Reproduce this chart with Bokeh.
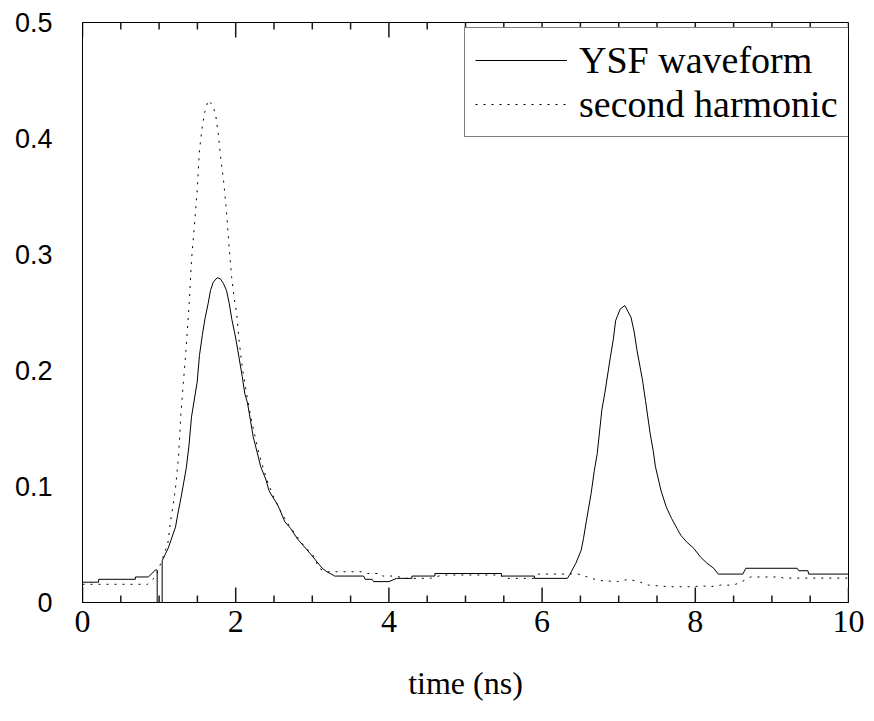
from bokeh.plotting import figure
from bokeh.models import Range1d, FixedTicker, Legend, LegendItem
from bokeh.embed import file_html
from bokeh.resources import INLINE

# ---- data ----
ysf_t = [0.0, 0.21, 0.21, 0.69, 0.69, 0.86, 0.95, 0.975, 0.975, 1.04, 1.04, 1.12,
         1.214, 1.249, 1.288, 1.354, 1.388, 1.423, 1.497, 1.527, 1.563, 1.60, 1.641,
         1.671, 1.706, 1.758, 1.80, 1.84, 1.88, 1.915, 1.95, 2.0, 2.085, 2.119, 2.154,
         2.193, 2.228, 2.293, 2.327, 2.397, 2.432, 2.467, 2.537, 2.576, 2.641, 2.715,
         2.81, 2.97, 3.13, 3.19, 3.27, 3.29, 3.67, 3.69, 3.78, 3.80, 4.0, 4.1, 4.3,
         4.3, 4.6, 4.6, 5.47, 5.47, 5.9, 5.9, 6.33, 6.36, 6.44, 6.51, 6.54, 6.58, 6.64,
         6.68, 6.72, 6.78, 6.82, 6.89, 6.93, 6.96, 7.02, 7.08, 7.16, 7.2, 7.24, 7.31,
         7.35, 7.41, 7.45, 7.48, 7.55, 7.62, 7.69, 7.76, 7.81, 7.89, 7.98, 8.07, 8.15,
         8.24, 8.30, 8.62, 8.66, 9.33, 9.35, 9.47, 9.48, 10.0]
ysf_v = [0.0175, 0.0175, 0.020, 0.020, 0.022, 0.022, 0.028, 0.028, 0.0, 0.0, 0.036, 0.047,
         0.065, 0.078, 0.091, 0.1156, 0.134, 0.160, 0.190, 0.213, 0.230, 0.245, 0.258,
         0.269, 0.276, 0.280, 0.279, 0.275, 0.269, 0.258, 0.244, 0.228, 0.195, 0.180, 0.172,
         0.157, 0.143, 0.126, 0.117, 0.1055, 0.097, 0.0926, 0.0854, 0.080, 0.0696, 0.064,
         0.0545, 0.0424, 0.0295, 0.0265, 0.0237, 0.0228, 0.0228, 0.020, 0.020, 0.018, 0.018, 0.0208, 0.0208,
         0.0228, 0.0228, 0.025, 0.025, 0.0228, 0.0228, 0.0208, 0.0208, 0.024, 0.0338, 0.045, 0.055, 0.071, 0.094,
         0.113, 0.1285, 0.166, 0.181, 0.211, 0.227, 0.243, 0.253, 0.256, 0.246, 0.234, 0.217, 0.192,
         0.174, 0.146, 0.131, 0.117, 0.097, 0.0825, 0.0725, 0.064, 0.058, 0.052, 0.0467, 0.039, 0.034,
         0.0295, 0.0245, 0.0245, 0.0295, 0.0295, 0.0274, 0.0274, 0.0245, 0.0245]

sh_t = [0.0, 0.85, 0.95, 1.0, 1.04, 1.114, 1.149, 1.183, 1.218, 1.253, 1.282, 1.316, 1.354,
        1.393, 1.423, 1.462, 1.497, 1.527, 1.563, 1.597, 1.641, 1.706, 1.741, 1.771, 1.806,
        1.841, 1.876, 1.911, 1.946, 1.981, 2.015, 2.04, 2.085, 2.15, 2.2, 2.3, 2.4, 2.5, 2.6,
        2.7, 2.8, 2.9, 3.0, 3.09, 3.18, 3.65, 3.72, 3.89, 3.92, 4.1, 4.19, 4.54, 4.7, 5.46,
        5.5, 5.9, 5.95, 6.35, 6.45, 6.59, 6.74, 6.98, 7.13, 7.26, 7.39, 7.67, 7.98, 8.07,
        8.2, 8.33, 8.5, 8.61, 8.72, 9.11, 9.15, 10.0]
sh_v = [0.0157, 0.0157, 0.022, 0.030, 0.037, 0.051, 0.070, 0.084, 0.101, 0.125, 0.160, 0.189, 0.220,
        0.258, 0.295, 0.326, 0.355, 0.390, 0.410, 0.423, 0.433, 0.428, 0.419, 0.405, 0.382,
        0.364, 0.340, 0.309, 0.281, 0.262, 0.248, 0.228, 0.203, 0.177, 0.159, 0.129, 0.107, 0.090, 0.077,
        0.066, 0.057, 0.048, 0.042, 0.0295, 0.0265, 0.0265, 0.025, 0.025, 0.0228, 0.0228, 0.0208, 0.0208, 0.0237, 0.0237,
        0.0208, 0.0208, 0.0245, 0.0245, 0.025, 0.022, 0.019, 0.018, 0.020, 0.018, 0.015, 0.0136, 0.0136, 0.0145,
        0.0136, 0.015, 0.015, 0.018, 0.022, 0.022, 0.021, 0.021]

x_ticks = [0, 2, 4, 6, 8, 10]
x_minor = [0.5, 1, 1.5, 2.5, 3, 3.5, 4.5, 5, 5.5, 6.5, 7, 7.5, 8.5, 9, 9.5]
y_ticks = [0, 0.1, 0.2, 0.3, 0.4, 0.5]
y_tick_labels = ["0", "0.1", "0.2", "0.3", "0.4", "0.5"]
series_names = ["YSF waveform", "second harmonic"]

# ---- style ----
SERIF = "Liberation Serif"
SANS = "Liberation Sans"
X_LO, X_HI = 0, 10
Y_LO, Y_HI = 0, 0.5
FRAME_W, FRAME_H = 766, 580
MAJOR_LEN_PX, MINOR_LEN_PX = 15, 7
TICK_W = 1.5
TICK_COLOR = "#1a1a1a"

p = figure(frame_width=FRAME_W, frame_height=FRAME_H,
           min_border_left=82, min_border_right=18, min_border_top=22, min_border_bottom=105,
           x_range=Range1d(X_LO, X_HI), y_range=Range1d(Y_LO, Y_HI),
           output_backend="svg", toolbar_location=None)
p.xgrid.visible = False
p.ygrid.visible = False
p.outline_line_color = "black"
p.outline_line_width = 1
p.background_fill_color = "white"
p.border_fill_color = "white"

r1 = p.line(ysf_t, ysf_v, line_color="black", line_width=1)
r2 = p.line(sh_t, sh_v, line_color="black", line_width=1, line_dash="2 6")

# inward ticks along bottom and top edges (lengths converted from pixels to data units)
px_to_y = (Y_HI - Y_LO) / FRAME_H
maj_len = MAJOR_LEN_PX * px_to_y
min_len = MINOR_LEN_PX * px_to_y
tick_xs, tick_ys = [], []
for t in x_ticks:
    tick_xs += [[t, t], [t, t]]
    tick_ys += [[Y_LO, Y_LO + maj_len], [Y_HI, Y_HI - maj_len]]
for t in x_minor:
    tick_xs += [[t, t], [t, t]]
    tick_ys += [[Y_LO, Y_LO + min_len], [Y_HI, Y_HI - min_len]]
p.multi_line(xs=tick_xs, ys=tick_ys, line_color=TICK_COLOR, line_width=TICK_W)

xa = p.xaxis[0]
xa.ticker = FixedTicker(ticks=x_ticks, minor_ticks=x_minor)
xa.major_tick_in = 0
xa.major_tick_out = 0
xa.minor_tick_in = 0
xa.minor_tick_out = 0
xa.axis_line_color = "black"
xa.major_label_text_font = SERIF
xa.major_label_text_font_size = "32px"
xa.major_label_text_color = "black"
xa.major_label_standoff = 8
xa.axis_label = "time (ns)"
xa.axis_label_text_font = SERIF
xa.axis_label_text_font_size = "32px"
xa.axis_label_text_font_style = "normal"
xa.axis_label_text_color = "black"
xa.axis_label_standoff = 30

ya = p.yaxis[0]
ya.ticker = FixedTicker(ticks=y_ticks, minor_ticks=[])
ya.major_label_overrides = {t: s for t, s in zip(y_ticks, y_tick_labels)}
ya.major_tick_in = 0
ya.major_tick_out = 0
ya.minor_tick_in = 0
ya.minor_tick_out = 0
ya.axis_line_color = "black"
ya.major_label_text_font = SANS
ya.major_label_text_font_size = "27px"
ya.major_label_text_color = "black"
ya.major_label_standoff = 30

legend = Legend(items=[LegendItem(label=series_names[0], renderers=[r1]),
                       LegendItem(label=series_names[1], renderers=[r2])],
                location=(382, 465))
legend.margin = 0
legend.padding = 10
legend.spacing = 0
legend.glyph_width = 92
legend.label_standoff = 12
legend.label_text_font = SERIF
legend.label_text_font_size = "38px"
legend.label_text_color = "black"
legend.border_line_color = "black"
legend.border_line_width = 1
legend.background_fill_alpha = 1
p.add_layout(legend)

open("out.html", "w").write(file_html(p, INLINE))
